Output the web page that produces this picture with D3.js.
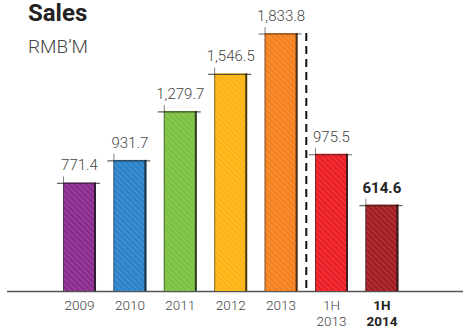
<!DOCTYPE html>
<html><head><meta charset="utf-8">
<script src="https://cdn.jsdelivr.net/npm/d3@7"></script>
<style>body{margin:0;background:#fff}svg{display:block}</style>
</head><body>
<script>
const categories = ["2009","2010","2011","2012","2013","1H 2013","1H 2014"];
const values = [771.4, 931.7, 1279.7, 1546.5, 1833.8, 975.5, 614.6];
const valueLabels = ["771.4","931.7","1,279.7","1,546.5","1,833.8","975.5","614.6"];
const colors = ["#8c2b8f","#2d83c9","#7dc143","#fcb415","#f5821f","#ec1f27","#a41d24"];
const boldFlags = [false,false,false,false,false,false,true];

const W = 470, H = 329;
const svg = d3.select("body").append("svg").attr("width", W).attr("height", H);
const font = "Roboto, 'Helvetica Neue', Arial, sans-serif";

const x = d3.scaleBand().domain(categories).range([63, 398.4]).paddingInner(0.345).paddingOuter(0);
const y = d3.scaleLinear().domain([0, 1833.8]).range([291, 33]);

// hatch pattern
const defs = svg.append("defs");
const pat = defs.append("pattern").attr("id","hatch").attr("patternUnits","userSpaceOnUse")
  .attr("width",4).attr("height",4).attr("patternTransform","rotate(-45)");
pat.append("line").attr("x1",0).attr("y1",0).attr("x2",0).attr("y2",4)
  .attr("stroke","#fff").attr("stroke-width",0.8).attr("opacity",0.35);

// title
svg.append("text").attr("x",28).attr("y",21).text("Sales")
  .attr("font-family",font).attr("font-weight",700).attr("font-size",24).attr("fill","#222");
svg.append("text").attr("x",28).attr("y",53).text("RMB\u2019M")
  .attr("font-family",font).attr("font-weight",300).attr("font-size",19).attr("fill","#444");

// baseline
svg.append("line").attr("x1",7).attr("x2",463).attr("y1",y(0)+0.5).attr("y2",y(0)+0.5)
  .attr("stroke","#555").attr("stroke-width",1.5);

const g = svg.append("g");
const bars = g.selectAll("g.bar").data(categories).enter().append("g").attr("class","bar");
bars.append("rect")
  .attr("x", d => x(d)).attr("y", (d,i) => y(values[i]))
  .attr("width", x.bandwidth()).attr("height", (d,i) => y(0) - y(values[i]))
  .attr("fill", (d,i) => colors[i]);
bars.append("rect")
  .attr("x", d => x(d)).attr("y", (d,i) => y(values[i]))
  .attr("width", x.bandwidth()).attr("height", (d,i) => y(0) - y(values[i]))
  .attr("fill", "url(#hatch)");
// sketchy dark edges
bars.append("line").attr("x1", d => x(d)+x.bandwidth()-1).attr("x2", d => x(d)+x.bandwidth()-1)
  .attr("y1", (d,i) => y(values[i])).attr("y2", y(0))
  .attr("stroke","#1a1a1a").attr("stroke-width",2).attr("opacity",0.8);
bars.append("line").attr("x1", d => x(d)+0.5).attr("x2", d => x(d)+0.5)
  .attr("y1", (d,i) => y(values[i]) - 6).attr("y2", y(0))
  .attr("stroke","#333").attr("stroke-width",1).attr("opacity",0.6);
bars.append("line").attr("x1", d => x(d)-6).attr("x2", d => x(d)+x.bandwidth()+4)
  .attr("y1", (d,i) => y(values[i])+1).attr("y2", (d,i) => y(values[i])+1)
  .attr("stroke","#222").attr("stroke-width",1.2).attr("opacity",0.7);

// value labels
bars.append("text")
  .attr("x", d => x(d) + x.bandwidth()/2).attr("y", (d,i) => y(values[i]) - 12)
  .attr("text-anchor","middle").attr("font-family",font)
  .attr("font-weight",(d,i) => boldFlags[i] ? 700 : 300).attr("font-size",15)
  .attr("fill",(d,i) => boldFlags[i] ? "#222" : "#444")
  .text((d,i) => valueLabels[i]);

// dashed separator
const sepX = (x("2013") + x.bandwidth() + x("1H 2013")) / 2;
svg.append("line").attr("x1",sepX).attr("x2",sepX).attr("y1",y(values[4])).attr("y2",y(0))
  .attr("stroke","#111").attr("stroke-width",2).attr("stroke-dasharray","8,5");

// x axis labels
const xl = svg.append("g");
categories.forEach((c,i) => {
  const parts = c.split(" ");
  parts.forEach((part,j) => {
    xl.append("text").attr("x", x(c)+x.bandwidth()/2).attr("y", 310 + j*15.5)
      .attr("text-anchor","middle").attr("font-family",font).attr("font-size",13.5)
      .attr("font-weight", boldFlags[i] ? 700 : 300).attr("fill", boldFlags[i] ? "#222" : "#444")
      .text(part);
  });
});
</script>
</body></html>
